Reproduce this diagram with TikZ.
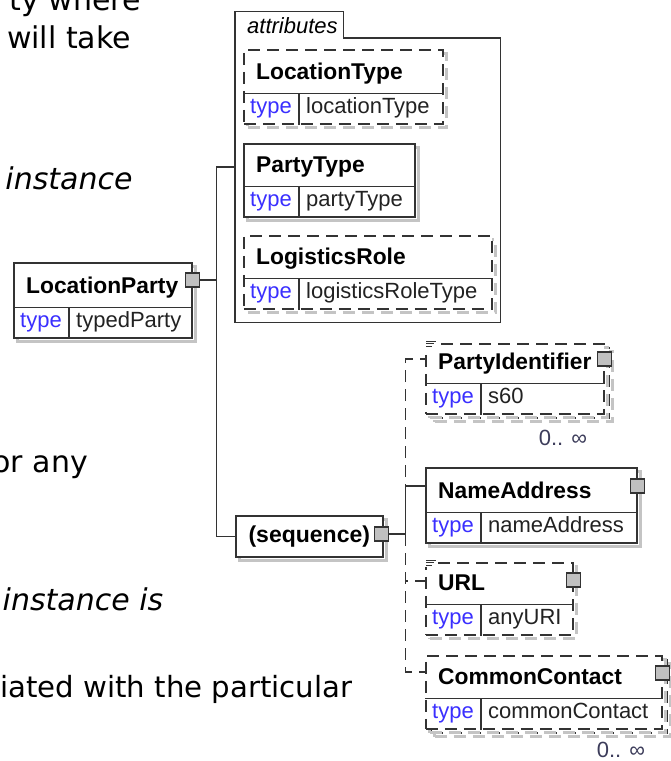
\documentclass[tikz,border=0pt]{standalone}
\usepackage{fontspec}
\setmainfont{Liberation Sans}
\newfontfamily\bodyfont{DejaVu Sans}
\usepackage{tikz}
\definecolor{xsdline}{HTML}{333333}
\definecolor{xsdshadow}{HTML}{C4C4C4}
\definecolor{xsdgray}{HTML}{C0C0C0}
\definecolor{xsdblue}{HTML}{3A2FFF}
\definecolor{xsdval}{HTML}{222222}
\definecolor{xsdocc}{HTML}{3C3C5A}

% one schema element: name row on top, type row below
\newcommand\xsdelem[7]{%
  \node[elembox, #2, minimum width=#4pt, minimum height=#5pt] (#1) at #3 {};
  \draw[cellline] ([yshift=31pt]#1.south west) -- ([yshift=31pt]#1.south east);
  \draw[cellline] ([shift={(56,-31)}]#1.south west) -- ([xshift=56pt]#1.south west);
  \node[elemname] (#1-name) at ([shift={(13,-45)}]#1.south west) {#6};
  \node[typekey] (#1-key) at ([shift={(28,-11)}]#1.south west) {type};
  \node[typeval] (#1-val) at ([shift={(63,-11)}]#1.south west) {#7};
}

\begin{document}
\begin{tikzpicture}[x=1pt, y=-1pt,
  elembox/.style={draw=xsdline, line width=1.6pt, fill=white, anchor=north west, inner sep=0pt,
    preaction={draw=xsdshadow, fill=none, line width=3pt, transform canvas={shift={(4pt,-4pt)}}}},
  optional/.style={dash pattern=on 12pt off 7pt},
  cellline/.style={xsdline, line width=1.6pt},
  elemname/.style={anchor=base west, inner sep=0pt, font=\fontsize{22.8}{26}\selectfont\bfseries},
  typekey/.style={anchor=base, inner sep=0pt, text=xsdblue, font=\fontsize{22}{26}\selectfont},
  typeval/.style={anchor=base west, inner sep=0pt, text=xsdval, font=\fontsize{22}{26}\selectfont},
  expander/.style={draw=xsdline, fill=xsdgray, line width=1.4pt, minimum size=14pt, inner sep=0pt},
  conn/.style={xsdline, line width=1.6pt},
  occurs/.style={anchor=base, inner sep=0pt, text=xsdocc, font=\fontsize{22}{26}\selectfont},
  bodytext/.style={anchor=base, inner sep=0pt, font=\bodyfont\fontsize{30}{36}\selectfont},
  bodyit/.style={bodytext, font=\bodyfont\itshape\fontsize{30}{36}\selectfont}]
\useasboundingbox (0,0) rectangle (670,761);

% text of the page beside the diagram
\node[bodytext, anchor=base east] (frag1) at (141,10) {ty where};
\node[bodytext] (frag2) at (69,48) {will take};
\node[bodyit] (frag3) at (69,189) {instance};
\node[bodytext, anchor=base east] (frag4) at (88,472) {or any};
\node[bodyit] (frag5) at (83,610) {instance is};
\node[bodytext, anchor=base west, font=\bodyfont\fontsize{29.2}{36}\selectfont] (frag6) at (0,697) {iated with the particular};

% attributes group
\node[anchor=north west, inner sep=0pt, minimum width=265pt, minimum height=284pt] (attrs) at (235,38) {};
\node[anchor=south west, inner sep=0pt, minimum width=108pt, minimum height=26pt] (attrs-tab) at (attrs.north west) {};
\node[anchor=base west, inner sep=0pt, font=\fontsize{22}{26}\selectfont\itshape] (attrs-label) at ([shift={(12,-5)}]attrs.north west) {attributes};
\draw[conn] (attrs.north west) -- (attrs-tab.north west) -- (attrs-tab.north east) -- (attrs-tab.south east)
  -- (attrs.north east) -- (attrs.south east) -- (attrs.south west) -- cycle;

\xsdelem{loctype}{optional}{(243,49)}{199}{74}{LocationType}{locationType}
\xsdelem{partytype}{}{(243,143)}{171}{73}{PartyType}{partyType}
\xsdelem{logrole}{optional}{(243,235)}{248}{73}{LogisticsRole}{logisticsRoleType}

% root element
\xsdelem{lp}{}{(13,262)}{178}{75}{LocationParty}{typedParty}
\node[expander] (lp-x) at ([yshift=-18pt]lp.north east) {};
\coordinate (fork1) at ([xshift=16pt]lp-x.east);
\draw[conn] (lp-x) -- (fork1);
\draw[conn] (fork1) |- ([yshift=13pt]attrs.west);

% sequence
\node[elembox, minimum width=147pt, minimum height=41pt] (seq) at (235,515) {};
\node[inner sep=0pt, font=\fontsize{23}{26}\selectfont\bfseries] (seq-label) at (seq.center) {(sequence)};
\node[expander] (seq-x) at ([shift={(-2,19)}]seq.north east) {};
\draw[conn] (fork1) |- (seq.west);
\coordinate (fork2) at ([xshift=16pt]seq-x.east);
\draw[conn] (seq-x) -- (fork2);

% children of the sequence
\node[elembox, optional, minimum width=178pt, minimum height=70pt] (pid-back) at (430,347) {};
\xsdelem{pid}{optional}{(425,343)}{178}{70}{PartyIdentifier}{s60}
\xsdelem{nameaddr}{}{(425,467)}{211}{75}{NameAddress}{nameAddress}
\xsdelem{url}{optional}{(425,562)}{147}{72}{URL}{anyURI}
\node[elembox, optional, minimum width=236pt, minimum height=73pt] (cc-back) at (430,659) {};
\xsdelem{cc}{optional}{(425,655)}{236}{73}{CommonContact}{commonContact}

\node[expander] (pid-x) at ([yshift=-16pt]pid.north east) {};
\node[expander] (nameaddr-x) at ([yshift=-19pt]nameaddr.north east) {};
\node[expander] (url-x) at ([yshift=-18pt]url.north east) {};
\node[expander] (cc-x) at ([yshift=-18pt]cc.north east) {};

% documentation marks
\foreach \el in {pid,url} {
  \fill[white] ([shift={(-2,-5)}]\el.north west) rectangle ([shift={(13,5)}]\el.north west);
  \draw[xsdline, line width=1pt] ([shift={(1,-2)}]\el.north west) -- ++(10,0)
    ([shift={(1,0.5)}]\el.north west) -- ++(8,0) ([shift={(1,3)}]\el.north west) -- ++(6,0);
}

\draw[conn, optional] (fork2) |- ([yshift=-16pt]pid.north west);
\draw[conn] (fork2) |- ([yshift=-19pt]nameaddr.north west);
\draw[conn, optional] (fork2) |- ([yshift=-19pt]url.north west);
\draw[conn, optional] (fork2) |- ([yshift=-17pt]cc.north west);

\node[occurs] (pid-occ) at (563,445) {0.. ∞};
\node[occurs] (cc-occ) at (621,757) {0.. ∞};
\end{tikzpicture}
\end{document}
